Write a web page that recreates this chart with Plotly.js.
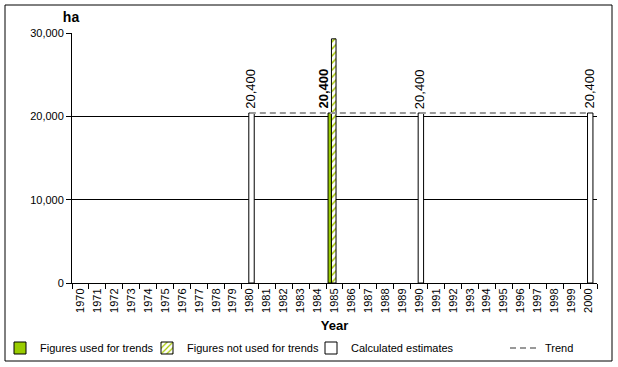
<!DOCTYPE html>
<html>
<head>
<meta charset="utf-8">
<script src="https://cdn.plot.ly/plotly-3.0.1.min.js"></script>
<style>
html,body{margin:0;padding:0;background:#fff;}
#chart{width:618px;height:367px;}
</style>
</head>
<body>
<div id="chart"></div>
<script>
// ---- data ----
var years = ['1970','1971','1972','1973','1974','1975','1976','1977','1978','1979','1980',
             '1981','1982','1983','1984','1985','1986','1987','1988','1989','1990',
             '1991','1992','1993','1994','1995','1996','1997','1998','1999','2000'];
var usedYears = ['1985'];
var usedValues = [20400];
var notUsedYears = ['1985'];
var notUsedValues = [29300];
var estYears = ['1980','1990','2000'];
var estValues = [20400, 20400, 20400];
var trendYears = ['1980','1985','1990','2000'];
var trendValues = [20400, 20400, 20400, 20400];
var yTicks = [0, 10000, 20000, 30000];

var FONT = 'Liberation Sans, Arial, sans-serif';
function fmt(v){ return v.toLocaleString('en-US'); }

var traces = [
  {
    type: 'bar', name: 'Figures used for trends',
    x: usedYears, y: usedValues,
    offset: -0.38, width: 0.2,
    marker: {color: '#99CC00', line: {color: '#000', width: 1}},
    legend: 'legend', showlegend: true, hoverinfo: 'x+y'
  },
  {
    type: 'bar', name: 'Figures not used for trends',
    x: notUsedYears, y: notUsedValues,
    offset: -0.18, width: 0.27,
    marker: {color: '#ffffff', line: {color: '#000', width: 1},
             pattern: {shape: '/', fgcolor: '#A8C800', bgcolor: '#ffffff', size: 5, solidity: 0.3}},
    legend: 'legend2', showlegend: true, hoverinfo: 'x+y'
  },
  {
    type: 'bar', name: 'Calculated estimates',
    x: estYears, y: estValues,
    offset: -0.06, width: 0.32,
    marker: {color: '#ffffff', line: {color: '#000', width: 1}},
    legend: 'legend3', showlegend: true, hoverinfo: 'x+y'
  },
  {
    type: 'scatter', mode: 'lines', name: 'Trend',
    x: trendYears, y: trendValues,
    line: {color: '#999999', width: 2, dash: '6px,4px'},
    legend: 'legend4', showlegend: true, hoverinfo: 'x+y'
  }
];

// category axes place annotations by category index
var annotations = [];
usedYears.forEach(function(yr, i){
  annotations.push({x: years.indexOf(yr), y: usedValues[i], xref: 'x', yref: 'y',
    text: '<b>' + fmt(usedValues[i]) + '</b>',
    showarrow: false, textangle: -90, xanchor: 'center', yanchor: 'bottom', xshift: -12, yshift: 2,
    font: {family: FONT, size: 13, color: '#000'}});
});
estYears.forEach(function(yr, i){
  annotations.push({x: years.indexOf(yr), y: estValues[i], xref: 'x', yref: 'y',
    text: fmt(estValues[i]),
    showarrow: false, textangle: -90, xanchor: 'center', yanchor: 'bottom', xshift: 0, yshift: 2,
    font: {family: FONT, size: 13, color: '#000'}});
});

function legendAt(leftPx){
  return {x: leftPx / 618, y: (367 - 348) / 367, xref: 'container', yref: 'container',
          xanchor: 'left', yanchor: 'middle', orientation: 'h', bgcolor: 'rgba(0,0,0,0)',
          borderwidth: 0, itemwidth: 30, font: {family: FONT, size: 11, color: '#000'}};
}

var layout = {
  width: 618, height: 367,
  showlegend: true,
  margin: {l: 72, r: 21, t: 33, b: 84, autoexpand: false},
  paper_bgcolor: '#ffffff', plot_bgcolor: '#ffffff',
  font: {family: FONT, size: 11, color: '#000'},
  barmode: 'overlay',
  title: {text: 'ha', x: 71 / 618, xanchor: 'center', y: 1 - 17 / 367, yanchor: 'middle',
          font: {family: FONT, size: 14, color: '#000', weight: 'bold'}},
  xaxis: {
    type: 'category', categoryorder: 'array', categoryarray: years,
    range: [-0.5, 30.5], tickson: 'boundaries', ticks: 'outside', ticklen: 5,
    tickcolor: '#000', tickangle: -90, showline: true, linecolor: '#000', linewidth: 1,
    showgrid: false, zeroline: false, automargin: false,
    tickfont: {family: FONT, size: 11, color: '#000'},
    title: {text: 'Year', standoff: 11, font: {family: FONT, size: 13, color: '#000', weight: 'bold'}}
  },
  yaxis: {
    range: [0, 30000], tickvals: yTicks, tickformat: ',d', ticks: 'outside', ticklen: 5,
    tickcolor: '#000', showline: true, linecolor: '#000', linewidth: 1,
    showgrid: true, gridcolor: '#000', gridwidth: 1, zeroline: false, automargin: false,
    tickfont: {family: FONT, size: 11, color: '#000'}
  },
  legend: legendAt(0),
  legend2: legendAt(147),
  legend3: legendAt(311),
  legend4: legendAt(505),
  annotations: annotations,
  shapes: [{type: 'rect', xref: 'paper', yref: 'paper',
            x0: (5 - 72) / 525, x1: (612 - 72) / 525,
            y0: (283 - 361) / 250, y1: (283 - 5) / 250,
            line: {color: '#000', width: 1}, fillcolor: 'rgba(0,0,0,0)', layer: 'above'}]
};

Plotly.newPlot('chart', traces, layout, {displayModeBar: false, staticPlot: true});
</script>
</body>
</html>
